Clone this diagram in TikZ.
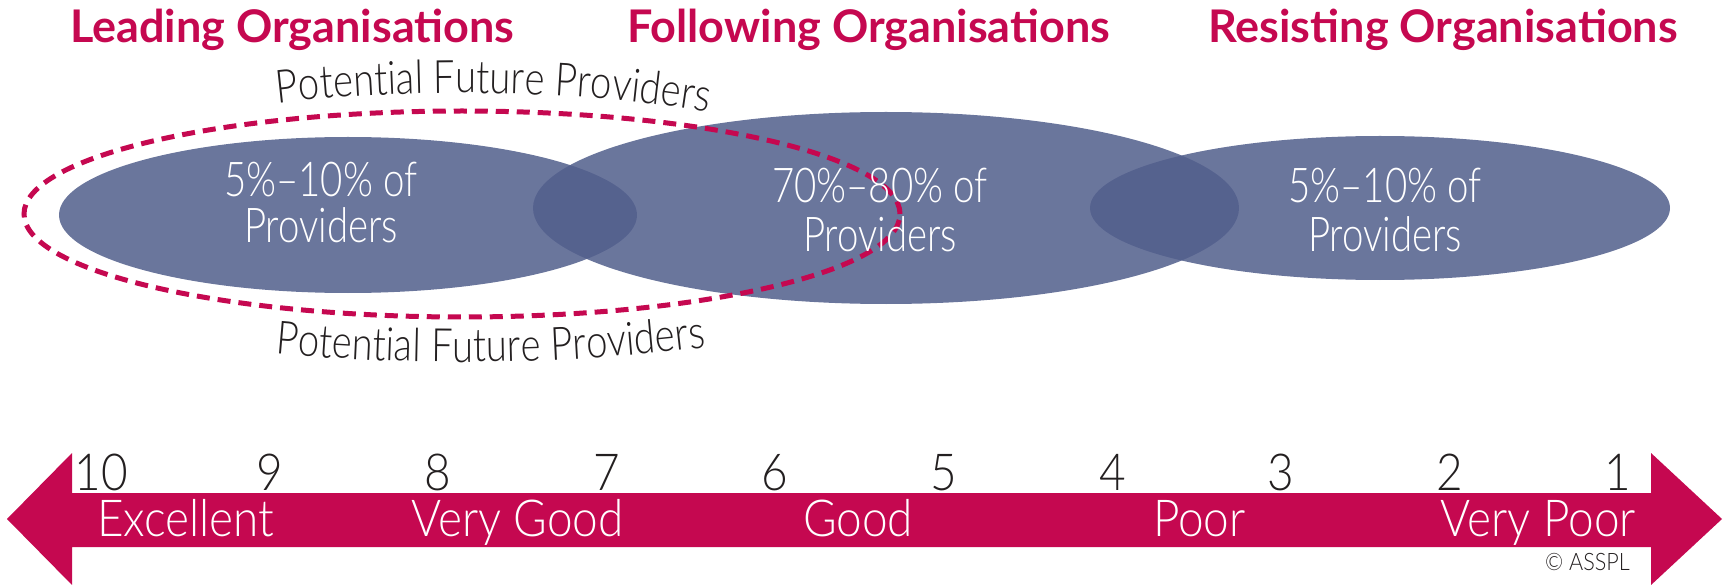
\documentclass[tikz,border=0pt]{standalone}
\usepackage{fontspec}
\usepackage{tikz}
\usetikzlibrary{decorations.text}
\setmainfont{Lato}
\IfFontExistsTF{Lato Light}{%
  \newfontfamily\condfont{Lato Light}[FakeStretch=0.8]
  \newfontfamily\arcfont{Lato Light}[FakeStretch=0.83]
  \newfontfamily\barfont{Lato Light}[FakeStretch=0.9]}{%
  \newfontfamily\condfont{Lato}[FakeStretch=0.8]
  \newfontfamily\arcfont{Lato}[FakeStretch=0.83]
  \newfontfamily\barfont{Lato}[FakeStretch=0.9]}
\definecolor{orgred}{RGB}{197,8,80}
\definecolor{provblue}{RGB}{82,95,140}
\definecolor{inkgray}{RGB}{35,31,32}
\begin{document}
\begin{tikzpicture}[x=1pt,y=1pt,
  orghead/.style={anchor=base west,text=orgred,font=\bfseries\fontsize{45}{45}\selectfont},
  provtext/.style={anchor=base,text=white,font=\condfont\fontsize{48}{48}\selectfont},
  scaletext/.style={anchor=base west,text=white,font=\barfont\fontsize{51}{51}\selectfont},
  numtext/.style={anchor=base,text=inkgray,font=\barfont\fontsize{51}{51}\selectfont},
  provshape/.style={fill=provblue,fill opacity=0.86}]
\tikzstyle{every node}+=[inner sep=0pt]
\useasboundingbox (0,0) rectangle (1723,-585);
\draw (70,-43) node [orghead] (leadhead) {Leading Organisations};
\draw (627,-43) node [orghead] (followhead) {Following Organisations};
\draw (1208,-43) node [orghead] (resisthead) {Resisting Organisations};
\fill [provshape] (348,-215) ellipse (289 and 78);
\fill [provshape] (886,-208) ellipse (353 and 96);
\fill [provshape] (1380,-208) ellipse (290 and 72);
\draw [orgred, line width=5pt, dash pattern=on 13pt off 8pt] (462,-214) ellipse (438 and 103);
\path [decorate, decoration={text along path, text align=left,
  text={|\arcfont\fontsize{46}{46}\selectfont\color{inkgray}|Potential Future Providers}}]
  (462,-214) ++(113.8:456 and 121) arc [start angle=113.8, end angle=30, x radius=456, y radius=121];
\path [decorate, decoration={text along path, text align=left,
  text={|\arcfont\fontsize{46}{46}\selectfont\color{inkgray}|Potential Future Providers}}]
  (462,-214) ++(250.5:560 and 148) arc [start angle=250.5, end angle=330, x radius=560, y radius=148];
\draw (321,-197) node [provtext] (leadpct) {5\%\textendash10\% of};
\draw (321,-243) node [provtext] (leadprov) {Providers};
\draw (880,-203) node [provtext] (followpct) {70\%\textendash80\% of};
\draw (880,-252) node [provtext] (followprov) {Providers};
\draw (1385,-203) node [provtext] (resistpct) {5\%\textendash10\% of};
\draw (1385,-252) node [provtext] (resistprov) {Providers};
\fill [orgred] (7,-519) -- (72,-453) -- (72,-493) -- (1651,-493) -- (1651,-453) -- (1722,-519)
  -- (1651,-585) -- (1651,-547) -- (72,-547) -- (72,-585) -- cycle;
\foreach \n [count=\k from 0] in {10,9,...,1}
  \draw ({101+168.56*\k},-490) node [numtext] (num\n) {\n};
\draw (97,-536) node [scaletext] (excellent) {Excellent};
\draw (411,-536) node [scaletext] (verygood) {Very Good};
\draw (803,-536) node [scaletext] (good) {Good};
\draw (1153,-536) node [scaletext] (poor) {Poor};
\draw (1636,-536) node [scaletext, anchor=base east] (verypoor) {Very Poor};
\draw (1630,-570) node [anchor=base east, text=inkgray, font=\barfont\fontsize{24}{24}\selectfont] (copy) {\textcopyright{} ASSPL};
\end{tikzpicture}
\end{document}
